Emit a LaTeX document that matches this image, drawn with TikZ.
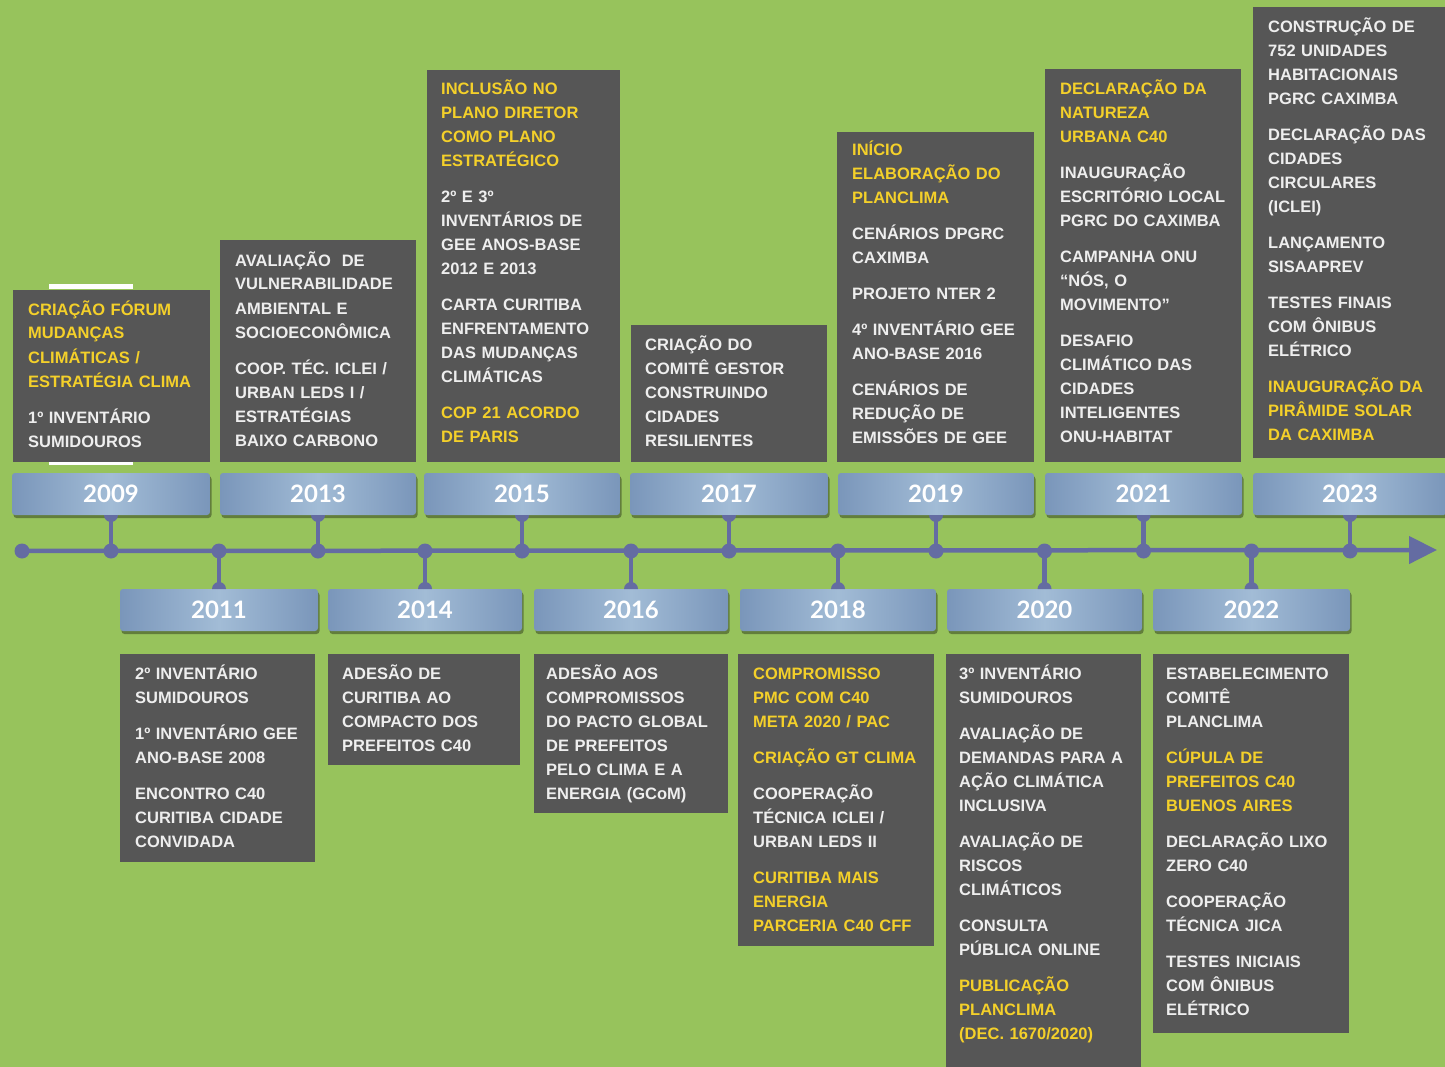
\documentclass[tikz,border=0pt]{standalone}
\usepackage{fontspec}
\setmainfont{Liberation Sans}
\newfontfamily\yearfont{Lato}
\usetikzlibrary{arrows.meta,shadows}
\definecolor{bg}{HTML}{97C35C}
\definecolor{gboxc}{HTML}{565656}
\definecolor{ylw}{HTML}{F4D02A}
\definecolor{wht}{HTML}{EEEEEE}
\definecolor{tlc}{RGB}{100,108,162}
\definecolor{barL}{RGB}{122,150,186}
\definecolor{barM}{RGB}{162,188,214}
\newcommand\yl[1]{{\color{ylw}#1}}
\newcommand\itm{\par\vspace{12pt}}
\begin{document}
\begin{tikzpicture}[x=1pt,y=-1pt,
 graybox/.style={fill=gboxc, inner sep=0pt, outer sep=0pt, anchor=north west},
 boxtext/.style={anchor=north west, inner sep=0pt, text width=200pt, align=left, text=wht, font=\fontsize{16.5}{24}\selectfont\bfseries},
 yearbar/.style={anchor=north west, inner sep=0pt, outer sep=0pt, minimum height=42pt, rounded corners=3pt, left color=barL, right color=barL, middle color=barM, drop shadow={shadow xshift=1.5pt, shadow yshift=-3pt, opacity=0.35, fill=black}, text=white, font=\yearfont\bfseries\fontsize{24}{24}\selectfont},
 dot/.style={circle, fill=tlc, minimum size=15pt, inner sep=0pt},
 conn/.style={draw=tlc, line width=4.5pt},
]
\useasboundingbox (0,0) rectangle (1445,1067);
\fill[bg] (0,0) rectangle (1445,1067);

% ---------- top boxes ----------
\node[graybox, minimum width=197pt, minimum height=172pt] (b2009) at (13,290) {};
\node[graybox, minimum width=196pt, minimum height=222pt] (b2013) at (220,240) {};
\node[graybox, minimum width=193pt, minimum height=392pt] (b2015) at (427,70) {};
\node[graybox, minimum width=196pt, minimum height=137pt] (b2017) at (631,325) {};
\node[graybox, minimum width=197pt, minimum height=330pt] (b2019) at (837,132) {};
\node[graybox, minimum width=196pt, minimum height=393pt] (b2021) at (1045,69) {};
\node[graybox, minimum width=192pt, minimum height=451pt] (b2023) at (1253,7) {};
% ---------- bottom boxes ----------
\node[graybox, minimum width=195pt, minimum height=208pt] (b2011) at (120,654) {};
\node[graybox, minimum width=192pt, minimum height=111pt] (b2014) at (328,654) {};
\node[graybox, minimum width=194pt, minimum height=159pt] (b2016) at (534,654) {};
\node[graybox, minimum width=196pt, minimum height=292pt] (b2018) at (738,654) {};
\node[graybox, minimum width=195pt, minimum height=413pt] (b2020) at (946,654) {};
\node[graybox, minimum width=196pt, minimum height=379pt] (b2022) at (1153,654) {};

\fill[white] (49,284) rectangle (133,289);
\fill[white] (49,462) rectangle (133,465);

% ---------- texts ----------
\node[boxtext] (t2009) at ([xshift=15pt,yshift=-8pt]b2009.north west) {\strut\yl{CRIAÇÃO FÓRUM\\MUDANÇAS\\CLIMÁTICAS /\\ESTRATÉGIA CLIMA}\itm 1º INVENTÁRIO\\SUMIDOUROS};
\node[boxtext] (t2013) at ([xshift=15pt,yshift=-9pt]b2013.north west) {\strut AVALIAÇÃO~ DE\\VULNERABILIDADE\\AMBIENTAL E\\SOCIOECONÔMICA\itm COOP. TÉC. ICLEI /\\URBAN LEDS I /\\ESTRATÉGIAS\\BAIXO CARBONO};
\node[boxtext] (t2015) at ([xshift=14pt,yshift=-8pt]b2015.north west) {\strut\yl{INCLUSÃO NO\\PLANO DIRETOR\\COMO PLANO\\ESTRATÉGICO}\itm 2º E 3º\\INVENTÁRIOS DE\\GEE ANOS-BASE\\2012 E 2013\itm CARTA CURITIBA\\ENFRENTAMENTO\\DAS MUDANÇAS\\CLIMÁTICAS\itm\yl{COP 21 ACORDO\\DE PARIS}};
\node[boxtext] (t2017) at ([xshift=14pt,yshift=-8pt]b2017.north west) {\strut CRIAÇÃO DO\\COMITÊ GESTOR\\CONSTRUINDO\\CIDADES\\RESILIENTES};
\node[boxtext] (t2019) at ([xshift=15pt,yshift=-7pt]b2019.north west) {\strut\yl{INÍCIO\\ELABORAÇÃO DO\\PLANCLIMA}\itm CENÁRIOS DPGRC\\CAXIMBA\itm PROJETO NTER 2\itm 4º INVENTÁRIO GEE\\ANO-BASE 2016\itm CENÁRIOS DE\\REDUÇÃO DE\\EMISSÕES DE GEE};
\node[boxtext] (t2021) at ([xshift=15pt,yshift=-9pt]b2021.north west) {\strut\yl{DECLARAÇÃO DA\\NATUREZA\\URBANA C40}\itm INAUGURAÇÃO\\ESCRITÓRIO LOCAL\\PGRC DO CAXIMBA\itm CAMPANHA ONU\\“NÓS, O\\MOVIMENTO”\itm DESAFIO\\CLIMÁTICO DAS\\CIDADES\\INTELIGENTES\\ONU-HABITAT};
\node[boxtext] (t2023) at ([xshift=15pt,yshift=-9pt]b2023.north west) {\strut CONSTRUÇÃO DE\\752 UNIDADES\\HABITACIONAIS\\PGRC CAXIMBA\itm DECLARAÇÃO DAS\\CIDADES\\CIRCULARES\\(ICLEI)\itm LANÇAMENTO\\SISAAPREV\itm TESTES FINAIS\\COM ÔNIBUS\\ELÉTRICO\itm\yl{INAUGURAÇÃO DA\\PIRÂMIDE SOLAR\\DA CAXIMBA}};
\node[boxtext] (t2011) at ([xshift=15pt,yshift=-8pt]b2011.north west) {\strut 2º INVENTÁRIO\\SUMIDOUROS\itm 1º INVENTÁRIO GEE\\ANO-BASE 2008\itm ENCONTRO C40\\CURITIBA CIDADE\\CONVIDADA};
\node[boxtext] (t2014) at ([xshift=14pt,yshift=-8pt]b2014.north west) {\strut ADESÃO DE\\CURITIBA AO\\COMPACTO DOS\\PREFEITOS C40};
\node[boxtext] (t2016) at ([xshift=12pt,yshift=-8pt]b2016.north west) {\strut ADESÃO AOS\\COMPROMISSOS\\DO PACTO GLOBAL\\DE PREFEITOS\\PELO CLIMA E A\\ENERGIA (GCoM)};
\node[boxtext] (t2018) at ([xshift=15pt,yshift=-8pt]b2018.north west) {\strut\yl{COMPROMISSO\\PMC COM C40\\META 2020 / PAC}\itm\yl{CRIAÇÃO GT CLIMA}\itm COOPERAÇÃO\\TÉCNICA ICLEI /\\URBAN LEDS II\itm\yl{CURITIBA MAIS\\ENERGIA\\PARCERIA C40 CFF}};
\node[boxtext] (t2020) at ([xshift=13pt,yshift=-8pt]b2020.north west) {\strut 3º INVENTÁRIO\\SUMIDOUROS\itm AVALIAÇÃO DE\\DEMANDAS PARA A\\AÇÃO CLIMÁTICA\\INCLUSIVA\itm AVALIAÇÃO DE\\RISCOS\\CLIMÁTICOS\itm CONSULTA\\PÚBLICA ONLINE\itm\yl{PUBLICAÇÃO\\PLANCLIMA\\(DEC. 1670/2020)}};
\node[boxtext] (t2022) at ([xshift=13pt,yshift=-8pt]b2022.north west) {\strut ESTABELECIMENTO\\COMITÊ\\PLANCLIMA\itm\yl{CÚPULA DE\\PREFEITOS C40\\BUENOS AIRES}\itm DECLARAÇÃO LIXO\\ZERO C40\itm COOPERAÇÃO\\TÉCNICA JICA\itm TESTES INICIAIS\\COM ÔNIBUS\\ELÉTRICO};

% ---------- year bars ----------
\node[yearbar, minimum width=198pt] (y2009) at (12,473) {2009};
\node[yearbar, minimum width=196pt] (y2013) at (220,473) {2013};
\node[yearbar, minimum width=196pt] (y2015) at (424,473) {2015};
\node[yearbar, minimum width=198pt] (y2017) at (630,473) {2017};
\node[yearbar, minimum width=196pt] (y2019) at (838,473) {2019};
\node[yearbar, minimum width=197pt] (y2021) at (1045,473) {2021};
\node[yearbar, minimum width=194pt] (y2023) at (1253,473) {2023};
\node[yearbar, minimum width=198pt] (y2011) at (120,589) {2011};
\node[yearbar, minimum width=194pt] (y2014) at (328,589) {2014};
\node[yearbar, minimum width=194pt] (y2016) at (534,589) {2016};
\node[yearbar, minimum width=196pt] (y2018) at (740,589) {2018};
\node[yearbar, minimum width=195pt] (y2020) at (947,589) {2020};
\node[yearbar, minimum width=197pt] (y2022) at (1153,589) {2022};

% ---------- timeline ----------
\coordinate (tl) at (0,551);
\coordinate (tlend) at (1437,550);
\node[dot] (d0) at (22,551) {};
\draw[draw=tlc, line width=4.5pt, -{Triangle[width=27pt,length=28pt]}] (d0.center) -- (tlend);
\foreach \yr in {2009,2013,2015,2017,2019,2021,2023,2011,2014,2016,2018,2020,2022}{
  \node[dot] (d\yr) at (y\yr.south |- tl) {};
}
\foreach \yr in {2009,2013,2015,2017,2019,2021,2023}{
  \draw[conn] (y\yr.south) -- (d\yr.center);
  \fill[tlc] ([xshift=-7pt]y\yr.south) arc[start angle=180, end angle=360, radius=7pt] -- cycle;
}
\foreach \yr in {2011,2014,2016,2018,2020,2022}{
  \draw[conn] (y\yr.north) -- (d\yr.center);
  \fill[tlc] ([xshift=-7pt]y\yr.north) arc[start angle=180, end angle=0, radius=7pt] -- cycle;
}
\end{tikzpicture}
\end{document}
